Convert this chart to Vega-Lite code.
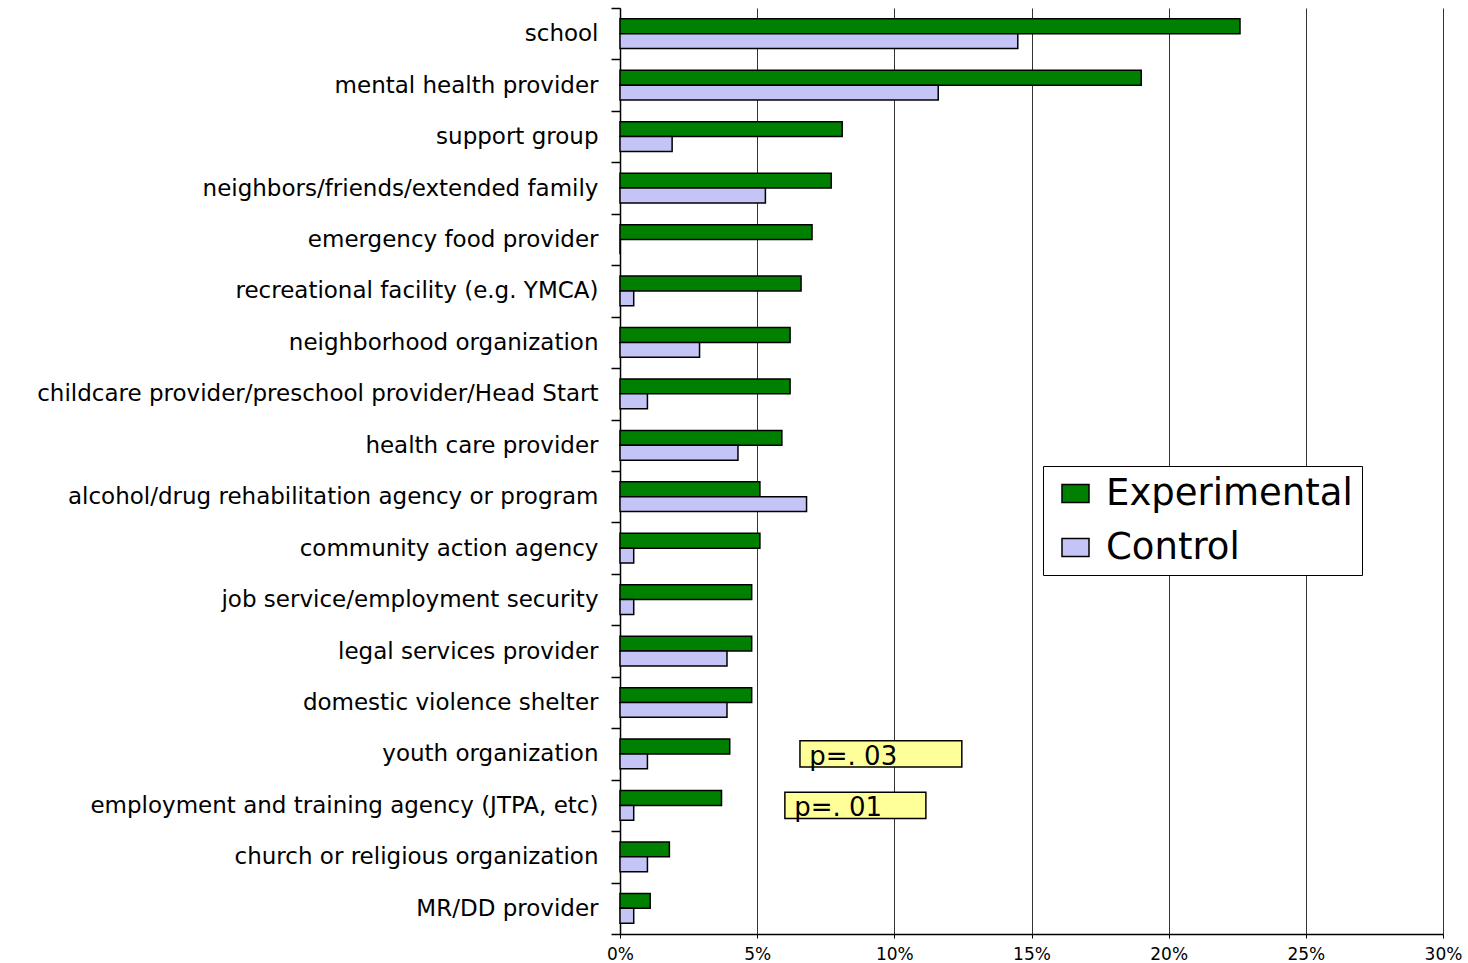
{
  "$schema": "https://vega.github.io/schema/vega-lite/v6.json",
  "width": 823,
  "height": 926,
  "autosize": {"type": "none"},
  "padding": {"left": 620, "top": 8, "right": 25, "bottom": 29},
  "background": "white",
  "config": {
    "view": {"stroke": null},
    "font": "DejaVu Sans"
  },
  "datasets": {
    "bars": [
      {"service": "school", "group": "Experimental", "pct": 22.6},
      {"service": "school", "group": "Control", "pct": 14.5},
      {"service": "mental health provider", "group": "Experimental", "pct": 19.0},
      {"service": "mental health provider", "group": "Control", "pct": 11.6},
      {"service": "support group", "group": "Experimental", "pct": 8.1},
      {"service": "support group", "group": "Control", "pct": 1.9},
      {"service": "neighbors/friends/extended family", "group": "Experimental", "pct": 7.7},
      {"service": "neighbors/friends/extended family", "group": "Control", "pct": 5.3},
      {"service": "emergency food provider", "group": "Experimental", "pct": 7.0},
      {"service": "emergency food provider", "group": "Control", "pct": 0},
      {"service": "recreational facility (e.g. YMCA)", "group": "Experimental", "pct": 6.6},
      {"service": "recreational facility (e.g. YMCA)", "group": "Control", "pct": 0.5},
      {"service": "neighborhood organization", "group": "Experimental", "pct": 6.2},
      {"service": "neighborhood organization", "group": "Control", "pct": 2.9},
      {"service": "childcare provider/preschool provider/Head Start", "group": "Experimental", "pct": 6.2},
      {"service": "childcare provider/preschool provider/Head Start", "group": "Control", "pct": 1.0},
      {"service": "health care provider", "group": "Experimental", "pct": 5.9},
      {"service": "health care provider", "group": "Control", "pct": 4.3},
      {"service": "alcohol/drug rehabilitation agency or program", "group": "Experimental", "pct": 5.1},
      {"service": "alcohol/drug rehabilitation agency or program", "group": "Control", "pct": 6.8},
      {"service": "community action agency", "group": "Experimental", "pct": 5.1},
      {"service": "community action agency", "group": "Control", "pct": 0.5},
      {"service": "job service/employment security", "group": "Experimental", "pct": 4.8},
      {"service": "job service/employment security", "group": "Control", "pct": 0.5},
      {"service": "legal services provider ", "group": "Experimental", "pct": 4.8},
      {"service": "legal services provider ", "group": "Control", "pct": 3.9},
      {"service": "domestic violence shelter", "group": "Experimental", "pct": 4.8},
      {"service": "domestic violence shelter", "group": "Control", "pct": 3.9},
      {"service": "youth organization", "group": "Experimental", "pct": 4.0},
      {"service": "youth organization", "group": "Control", "pct": 1.0},
      {"service": "employment and training agency (JTPA, etc)", "group": "Experimental", "pct": 3.7},
      {"service": "employment and training agency (JTPA, etc)", "group": "Control", "pct": 0.5},
      {"service": "church or religious organization", "group": "Experimental", "pct": 1.8},
      {"service": "church or religious organization", "group": "Control", "pct": 1.0},
      {"service": "MR/DD provider", "group": "Experimental", "pct": 1.1},
      {"service": "MR/DD provider", "group": "Control", "pct": 0.5}
    ],
    "notes": [
      {"service": "youth organization", "x0": 6.56, "x1": 12.46, "tx": 6.9, "label": "p=. 03"},
      {"service": "employment and training agency (JTPA, etc)", "x0": 6.01, "x1": 11.15, "tx": 6.35, "label": "p=. 01"}
    ]
  },
  "layer": [
    {
      "data": {"name": "bars"},
      "mark": {"type": "bar", "stroke": "black", "strokeWidth": 1.5, "opacity": 1},
      "encoding": {
        "y": {
          "field": "service", "type": "nominal", "sort": null,
          "scale": {"paddingInner": 0, "paddingOuter": 0},
          "axis": {
            "title": null, "tickBand": "extent", "tickSize": 9, "tickColor": "black",
            "domainColor": "black", "domainWidth": 1.5, "tickWidth": 1.5,
            "labelFontSize": 23, "labelFont": "DejaVu Sans", "labelColor": "black",
            "labelPadding": 13, "labelLimit": 800, "grid": false
          }
        },
        "yOffset": {
          "field": "group", "type": "nominal",
          "scale": {"domain": ["Experimental", "Control"], "paddingInner": 0, "paddingOuter": 0.73}
        },
        "x": {
          "field": "pct", "type": "quantitative",
          "scale": {"domain": [0, 30], "nice": false},
          "axis": {
            "title": null, "values": [0, 5, 10, 15, 20, 25, 30],
            "labelExpr": "datum.value + '%'",
            "grid": true, "gridColor": "#333333", "gridWidth": 1, "gridOpacity": 1,
            "domainColor": "black", "domainWidth": 1.5, "tickColor": "black", "tickSize": 4,
            "labelFontSize": 17, "labelFont": "DejaVu Sans", "labelColor": "black", "labelPadding": 8,
            "labelFlush": false
          }
        },
        "color": {
          "field": "group", "type": "nominal",
          "scale": {"domain": ["Experimental", "Control"], "range": ["#008000", "#c4c4f6"]},
          "legend": {
            "orient": "none", "legendX": 423, "legendY": 458, "title": null,
            "labelFontSize": 37, "labelFont": "DejaVu Sans", "labelColor": "black",
            "symbolType": "M-1.5,-1H1.5V1H-1.5Z", "symbolSize": 324,
            "symbolStrokeColor": "black", "symbolStrokeWidth": 1.5, "symbolOpacity": 1,
            "strokeColor": "black", "fillColor": "white", "padding": 9,
            "rowPadding": 16, "labelOffset": 12, "symbolOffset": 5, "labelLimit": 500
          }
        }
      }
    },
    {
      "data": {"name": "notes"},
      "mark": {"type": "bar", "fill": "#ffff99", "stroke": "black", "strokeWidth": 1.5, "height": {"band": 0.51}},
      "encoding": {
        "y": {"field": "service", "type": "nominal", "sort": null},
        "x": {"field": "x0", "type": "quantitative"},
        "x2": {"field": "x1"}
      }
    },
    {
      "data": {"name": "notes"},
      "mark": {"type": "text", "align": "left", "baseline": "middle", "fontSize": 26, "font": "DejaVu Sans", "color": "black", "dy": 3},
      "encoding": {
        "y": {"field": "service", "type": "nominal", "sort": null},
        "x": {"field": "tx", "type": "quantitative"},
        "text": {"field": "label"}
      }
    }
  ]
}
